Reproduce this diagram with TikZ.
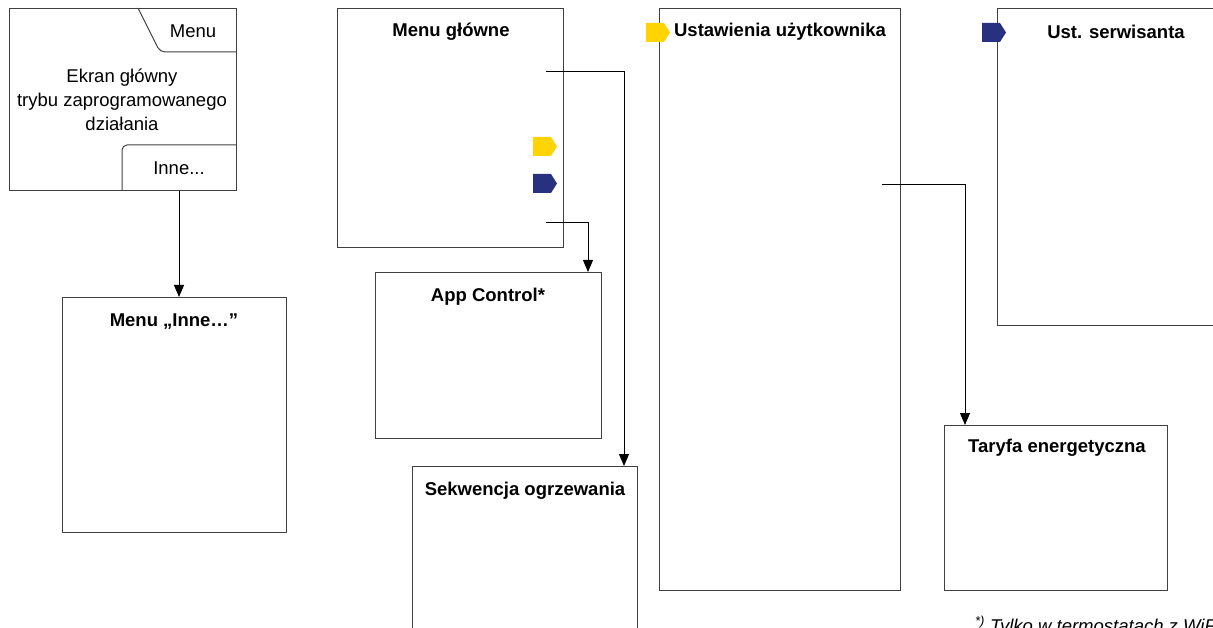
\documentclass[tikz,border=0pt]{standalone}
\usepackage{fontspec}
\setmainfont{Liberation Sans}
\usetikzlibrary{arrows.meta}
\definecolor{tagyellow}{HTML}{FFD400}
\definecolor{tagblue}{HTML}{28317F}
\tikzset{
  screen/.style={draw=black!75, line width=1pt, anchor=north west, inner sep=0pt},
  title/.style={font=\fontsize{18.5}{22}\selectfont\bfseries},
  plain/.style={font=\fontsize{18.5}{24}\selectfont, align=center},
  link/.style={draw=black, line width=0.9pt},
  tip/.style={link, -{Triangle[length=12pt,width=10pt]}},
}
\begin{document}
\begin{tikzpicture}[x=1pt,y=-1pt]
\useasboundingbox (0,0) rectangle (1213,628);
\clip (0,0) rectangle (1213,628);

% Main screen with its two tabs
\node[screen, minimum width=227pt, minimum height=182pt] (ekran) at (9,8) {};
\draw[black!75, line width=1pt, rounded corners=5pt] (138,8) -- (160,52) -- (236,52);
\draw[black!75, line width=1pt, rounded corners=5pt] (122,190) -- (122,145) -- (236,145);
\node[plain] (menutab) at (193,31) {Menu};
\node[plain] (ekrantxt) at (122,100) {Ekran główny\\trybu zaprogramowanego\\działania};
\node[plain] (innetab) at (179,168) {Inne...};

% Menu boxes
\node[screen, minimum width=224pt, minimum height=235pt] (inne) at (62,297) {};
\node[title] at (174,322) {Menu „Inne…”};

\node[screen, minimum width=226pt, minimum height=239pt] (glowne) at (337,8) {};
\node[title] at (451,32) {Menu główne};

\node[screen, minimum width=226pt, minimum height=166pt] (app) at (375,272) {};
\node[title] at (488,297) {App Control*};

\node[screen, minimum width=225pt, minimum height=200pt] (sekw) at (412,466) {};
\node[title] at (525,491) {Sekwencja ogrzewania};

\node[screen, minimum width=241pt, minimum height=582pt] (uzyt) at (659,8) {};
\node[title] at (780,32) {Ustawienia użytkownika};

\node[screen, minimum width=240pt, minimum height=317pt] (serwis) at (997,8) {};
\node[title] at (1116,32) {Ust. serwisanta};

\node[screen, minimum width=223pt, minimum height=165pt] (taryfa) at (944,425) {};
\node[title] at (1057,448) {Taryfa energetyczna};

% Access tags
\foreach \c/\x/\y in {tagyellow/533/137, tagblue/533/174, tagyellow/646/23, tagblue/982/23} {
  \fill[\c] (\x,\y) -- ++(18,0) -- ++(6,9.5) -- ++(-6,9.5) -- ++(-18,0) -- cycle;
}

% Connectors
\coordinate (g1) at (546,71);
\coordinate (g2) at (546,222);
\coordinate (u1) at (882,184);
\draw[tip] (innetab |- ekran.south) -- (innetab |- inne.north);
\draw[tip] (g1) -| ([xshift=-14pt]sekw.north east);
\draw[tip] (g2) -| ([xshift=-14pt]app.north east);
\draw[tip] (u1) -| ([xshift=21pt]taryfa.north west);

% Footnote
\node[anchor=base west, font=\fontsize{18.5}{20}\selectfont\itshape, inner sep=0pt] (note) at (975,632) {\textsuperscript{*)} Tylko w termostatach z WiFi};
\end{tikzpicture}
\end{document}
